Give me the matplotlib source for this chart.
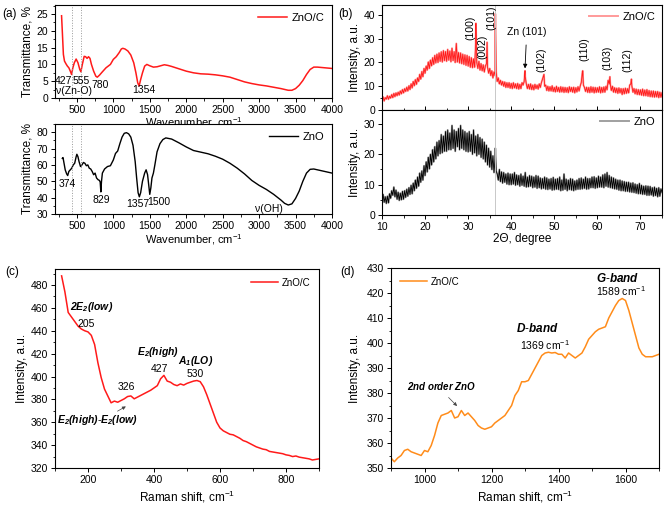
import matplotlib
matplotlib.use('Agg')
import matplotlib.pyplot as plt
import numpy as np
from matplotlib.ticker import AutoMinorLocator, MultipleLocator

plt.rcParams['font.family'] = ['Liberation Sans', 'DejaVu Sans']
plt.rcParams['mathtext.fontset'] = 'custom'
plt.rcParams['mathtext.rm'] = 'Liberation Sans'
plt.rcParams['mathtext.it'] = 'Liberation Sans:italic'
plt.rcParams['mathtext.bf'] = 'Liberation Sans:bold:italic'

# ---- (a) FTIR ----
ftir_znoc_x = [290, 300, 315, 330, 350, 370, 390, 410, 427, 445, 465, 490, 515, 540, 555, 575,
               600, 620, 640, 660, 680, 700, 730, 760, 780, 810, 850, 900, 960, 1000, 1040, 1080,
               1110, 1130, 1160, 1200, 1240, 1280, 1310, 1335, 1354, 1375, 1400, 1430, 1460, 1500,
               1550, 1600, 1650, 1700, 1750, 1800, 1900, 2000, 2100, 2200, 2300, 2400, 2500, 2600,
               2700, 2800, 2900, 3000, 3100, 3200, 3300, 3400, 3450, 3500, 3550, 3600, 3650, 3700,
               3750, 3800, 3900, 4000]
ftir_znoc_y = [24.5, 20, 13, 11, 10.2, 9.5, 9, 8, 7, 9, 10.5, 11.6, 10.5, 8.5, 7.8, 10,
               12.4, 12.3, 11.8, 12.3, 11.8, 10, 8, 6.5, 6.2, 6.8, 7.8, 9, 10, 11.5, 12.3, 13.5,
               14.6, 14.8, 14.6, 14, 12.8, 10.5, 7.5, 4.5, 3.6, 5.5, 7.5, 9.5, 10, 9.6,
               9.2, 9.3, 9.6, 9.9, 9.7, 9.4, 8.7, 8, 7.5, 7.2, 7.1, 6.9, 6.6, 6.2,
               5.5, 4.8, 4.3, 3.9, 3.6, 3.2, 2.8, 2.3, 2.3, 2.8, 3.8, 5.2, 7, 8.5,
               9.2, 9.2, 9, 8.8]

ftir_zno_x = [300, 310, 320, 340, 360, 374, 390, 410, 430, 450, 470, 490, 500, 515, 530, 550,
              570, 590, 610, 630, 650, 670, 690, 710, 730, 750, 770, 790, 810, 820, 829, 838,
              850, 880, 920, 960, 1000, 1030, 1060, 1090, 1120, 1150, 1180, 1210, 1240, 1270,
              1300, 1320, 1340, 1357, 1375, 1400, 1430, 1450, 1470, 1485, 1500, 1515, 1530, 1550,
              1570, 1600, 1640, 1680, 1720, 1800, 1900, 2000, 2100, 2200, 2300, 2400, 2500, 2600,
              2700, 2800, 2900, 3000, 3100, 3200, 3300, 3350, 3400, 3450, 3500, 3550, 3600, 3650,
              3700, 3750, 3800, 3900, 4000]
ftir_zno_y = [64, 64.5, 62, 57, 54.5, 53.5, 56, 57, 58, 60, 61, 65, 66.5, 65, 62, 59,
              60, 61.5, 61, 59.5, 60, 58, 57.5, 56, 54, 55, 52, 51, 50.5, 49.5, 43.5, 50,
              55, 57.5, 59, 59.5, 63, 67, 68.5, 73, 77, 79.3, 79.7, 79, 77, 72,
              62, 52, 43, 40.5, 43, 50, 55, 57, 54, 48, 42, 46, 52, 55,
              60, 68, 73, 75.5, 76.5, 75.8, 73.5, 71, 68.8, 67.8, 66.8, 65.3, 63.5, 61,
              58, 54.5, 50.5, 47.5, 45, 42, 38.5, 36.5, 35.5, 36.2, 39.5, 44, 50, 55,
              57.3, 57.5, 57, 56, 55]

# ---- (b) XRD, 0.25 deg grid from 10 to 75 ----
xrd_x = np.arange(10, 75.01, 0.25)
xrd_znoc = [4.0, 5.5, 3.8, 5.2, 4.6, 6.0, 4.5, 5.8, 5.0, 6.5, 5.2, 7.0, 5.6, 7.2, 6.0, 7.5,
            6.3, 8.0, 6.8, 8.6, 7.2, 9.0, 7.8, 9.6, 8.0, 10.2, 8.6, 11.0, 9.3, 12.0, 10.2, 12.8,
            10.8, 13.5, 12.0, 15.0, 13.0, 16.2, 14.0, 17.5, 15.5, 18.5, 16.8, 20.2, 17.5, 21.0, 18.6, 22.0,
            19.2, 23.0, 19.8, 23.5, 20.0, 24.0, 20.5, 24.5, 20.2, 25.0, 20.8, 24.6, 20.5, 25.5, 21.0, 24.8,
            20.3, 26.0, 20.8, 24.5, 20.0, 28.0, 20.2, 24.2, 19.8, 24.0, 19.5, 23.5, 19.2, 23.2, 18.8, 23.0,
            18.5, 22.5, 18.0, 22.0, 17.8, 21.5, 18.0, 28.0, 20.0, 17.5, 20.5, 16.8, 19.5, 16.5, 19.0, 16.0,
            18.5, 19.5, 18.0, 15.5, 17.5, 14.5, 16.5, 13.5, 16.0, 14.5, 16.0, 12.0, 13.5, 11.0, 12.5, 10.5,
            12.0, 10.0, 11.8, 9.5, 11.5, 9.5, 11.5, 9.2, 11.2, 9.0, 11.5, 9.3, 11.0, 9.0, 11.2, 8.8,
            10.8, 9.0, 11.5, 10.5, 12.0, 14.0, 11.0, 9.0, 10.8, 8.8, 11.0, 8.6, 10.5, 8.5, 10.8, 9.0,
            10.5, 8.8, 11.0, 9.5, 11.5, 13.0, 14.5, 10.0, 10.5, 8.2, 10.0, 8.0, 9.8, 8.0, 10.2, 7.8,
            9.5, 7.6, 10.0, 7.8, 9.5, 7.5, 9.8, 7.6, 9.6, 7.4, 9.5, 7.5, 9.4, 7.3, 9.8, 7.8,
            9.5, 7.5, 9.6, 7.2, 9.4, 7.6, 9.8, 8.0, 10.0, 11.5, 15.5, 10.5, 9.5, 7.8, 9.6, 7.4,
            9.5, 7.3, 9.8, 7.5, 9.6, 7.2, 9.5, 7.4, 9.4, 7.5, 9.8, 7.2, 9.5, 7.4, 9.7, 7.5,
            10.0, 8.5, 12.5, 11.0, 10.8, 8.2, 10.0, 7.5, 9.4, 7.3, 9.2, 7.0, 9.3, 7.2, 9.0, 6.5,
            9.0, 6.8, 9.2, 7.0, 9.0, 7.2, 10.5, 11.0, 10.2, 7.5, 9.0, 6.8, 8.8, 6.5, 8.6, 6.4,
            8.5, 6.2, 8.8, 6.0, 8.4, 6.0, 8.6, 5.8, 8.2, 5.6, 8.0, 5.5, 8.0, 5.4, 7.8, 5.5,
            7.8, 5.2, 7.5, 5.4, 7.2]
xrd_zno = [4.5, 6.8, 4.2, 6.0, 3.8, 6.2, 4.0, 7.0, 5.5, 8.0, 6.5, 9.2, 6.0, 8.2, 5.2, 7.5,
           4.8, 7.2, 5.0, 7.8, 5.2, 8.0, 5.8, 8.5, 6.2, 9.0, 6.8, 9.8, 7.0, 10.5, 8.0, 11.5,
           8.8, 12.5, 9.5, 13.8, 10.8, 14.5, 11.5, 16.2, 13.0, 17.5, 14.2, 19.0, 15.2, 20.0, 16.5, 21.5,
           17.5, 22.5, 18.5, 24.0, 19.5, 24.5, 20.2, 26.5, 20.5, 26.0, 21.0, 27.5, 21.0, 28.0, 21.5, 27.0,
           21.5, 29.5, 22.0, 28.0, 21.0, 27.5, 22.5, 28.5, 21.5, 29.5, 22.0, 28.0, 21.5, 27.5, 21.0, 27.0,
           20.8, 27.5, 21.0, 26.5, 20.0, 28.0, 20.5, 26.0, 19.5, 26.5, 20.0, 25.5, 19.0, 25.0, 18.5, 24.0,
           17.5, 23.0, 16.5, 22.0, 15.8, 21.0, 15.0, 19.5, 14.0, 18.5, 14.5, 13.5, 11.5, 15.0, 11.0, 14.2,
           10.5, 14.0, 10.8, 13.5, 10.2, 13.8, 10.0, 13.5, 10.0, 13.5, 10.2, 14.0, 9.8, 13.2, 10.0, 13.0,
           9.5, 13.5, 9.8, 12.8, 9.5, 14.0, 9.2, 12.5, 9.3, 13.0, 9.5, 12.8, 9.0, 12.5, 9.2, 13.0,
           8.8, 12.8, 9.0, 12.2, 8.6, 12.0, 8.8, 12.5, 8.5, 12.2, 8.4, 11.8, 8.6, 12.0, 8.2, 12.4,
           8.3, 11.8, 8.5, 12.0, 8.4, 12.5, 8.0, 11.5, 8.2, 13.5, 8.5, 11.8, 8.0, 11.5, 8.4, 12.0,
           8.2, 11.8, 8.0, 11.2, 8.3, 11.5, 8.5, 12.0, 8.5, 12.2, 8.6, 11.8, 8.8, 12.5, 8.5, 12.0,
           8.6, 12.0, 9.0, 12.5, 9.0, 12.6, 8.8, 12.2, 9.0, 12.8, 9.2, 12.5, 9.2, 13.2, 9.0, 13.5,
           9.5, 14.0, 9.2, 13.0, 9.0, 12.5, 8.8, 12.2, 8.6, 11.8, 8.5, 11.5, 8.2, 11.5, 8.0, 11.2,
           8.0, 11.0, 7.8, 10.8, 7.8, 10.8, 7.6, 10.5, 7.5, 10.6, 7.4, 10.2, 7.2, 10.0, 7.0, 10.4,
           7.0, 9.8, 6.8, 9.5, 6.8, 9.6, 6.5, 9.5, 6.5, 9.4, 6.6, 9.0, 6.2, 9.2, 6.4, 8.8,
           6.0, 9.0, 6.2, 8.6, 7.5]
# sharp reflections that fall between grid points
peak_znoc_x = [31.8, 34.4, 36.3, 43.2, 47.6, 56.6, 62.9, 67.9]
peak_znoc_y = [36.5, 28.5, 40.5, 16.5, 15.0, 16.5, 14.0, 13.0]
peak_zno_x = [36.3]
peak_zno_y = [22.0]

# ---- (c) Raman low range ----
raman_c_x = np.arange(120, 901, 10)
raman_c_y = [488, 474, 456, 452, 448, 444, 441.5, 440, 439, 436, 428, 412, 399, 389, 383, 377,
             378.5, 377.5, 379, 380.5, 382.5, 383, 380.5, 382, 383.5, 385, 386.5, 388, 390, 392,
             398, 401, 396, 395, 393, 392, 393.5, 392.5, 394, 395, 396, 396.5, 395.5, 391, 384,
             376, 368, 360, 355, 352.5, 351, 349.5, 349, 347.5, 346, 344, 343, 341.5, 340, 338.5,
             337.5, 336.5, 336, 334.5, 334, 333.5, 333, 332.5, 331.5, 331, 330, 330.5, 329.5, 329,
             328.5, 328, 327, 327.5, 328]

# ---- (d) Raman carbon range ----
raman_d_x = np.arange(900, 1701, 10)
raman_d_y = [354, 352.5, 354, 355, 357, 357.5, 356.5, 356, 355.5, 355, 357, 356.5, 359, 363, 368,
             371, 371.5, 372, 373, 370, 370.5, 373, 371, 372, 370.5, 369, 367, 366, 365.5, 366,
             366.5, 368, 369, 370, 371, 373, 375, 379, 381, 384.5, 384.5, 385, 387.5, 390, 392.5,
             395, 396, 396.3, 396, 396.2, 395.5, 395.5, 394, 396, 395, 394, 395, 396, 398.5,
             401.5, 403, 404.5, 405.5, 406, 406.5, 410, 412.5, 415, 417, 417.8, 417, 413, 408,
             403, 398, 395.5, 394.5, 394.5, 394.5, 395, 395.5]


def merge(x, y, px, py):
    xx = np.concatenate([np.asarray(x, float), px])
    yy = np.concatenate([np.asarray(y, float), py])
    o = np.argsort(xx, kind='stable')
    return xx[o], yy[o]


def style(ax):
    for s in ax.spines.values():
        s.set_linewidth(0.8)
    ax.tick_params(direction='out', length=3, width=0.7, labelsize=7.5, pad=2)
    ax.tick_params(which='minor', direction='out', length=1.8, width=0.6)
    ax.xaxis.set_minor_locator(AutoMinorLocator(2))
    ax.yaxis.set_minor_locator(AutoMinorLocator(2))


W, H = 664, 507
fig = plt.figure(figsize=(W/100, H/100), dpi=100)


def box(l, t, r, b):
    return [l/W, 1-b/H, (r-l)/W, (b-t)/H]


red = '#ff1a1a'

# (a) top
ax1 = fig.add_axes(box(55, 5, 332, 98))
ax1.plot(ftir_znoc_x, ftir_znoc_y, color=red, lw=1.1, label='ZnO/C')
ax1.set_xlim(200, 4000)
ax1.set_ylim(0, 27.7)
ax1.xaxis.set_major_locator(MultipleLocator(500))
ax1.yaxis.set_major_locator(MultipleLocator(5))
style(ax1)
ax1.set_xlabel('Wavenumber, cm$^{-1}$', fontsize=8, labelpad=0)
ax1.set_ylabel('Transmittance, %', fontsize=8.5, labelpad=2)
ax1.legend(loc='upper right', frameon=False, fontsize=8, handlelength=2.6,
           borderaxespad=0.3, handletextpad=0.4)
for v in (427, 555):
    ax1.axvline(v, color='#999999', ls=':', lw=0.7)
ax1.text(435, 5.1, '427', fontsize=7.5, ha='right', va='center')
ax1.text(556, 5.1, '555', fontsize=7.5, ha='center', va='center')
ax1.text(825, 3.8, '780', fontsize=7.5, ha='center', va='center')
ax1.text(1420, 2.3, '1354', fontsize=7.5, ha='center', va='center')
ax1.text(457, 2.0, 'ν(Zn-O)', fontsize=7.5, ha='center', va='center')
fig.text(2/W, 1-14/H, '(a)', fontsize=8.5, va='center')

# (a) bottom
ax2 = fig.add_axes(box(55, 124, 332, 214))
ax2.plot(ftir_zno_x, ftir_zno_y, color='black', lw=1.0, label='ZnO')
ax2.set_xlim(200, 4000)
ax2.set_ylim(30, 85)
ax2.xaxis.set_major_locator(MultipleLocator(500))
ax2.yaxis.set_major_locator(MultipleLocator(10))
style(ax2)
ax2.set_xlabel('Wavenumber, cm$^{-1}$', fontsize=8, labelpad=1)
ax2.set_ylabel('Transmittance, %', fontsize=8.5, labelpad=2)
ax2.legend(loc='upper right', frameon=False, fontsize=8, handlelength=2.6,
           borderaxespad=0.3, handletextpad=0.4)
for v in (427, 555):
    ax2.axvline(v, color='#999999', ls=':', lw=0.7)
ax2.text(374, 48.2, '374', fontsize=7.5, ha='center', va='center')
ax2.text(835, 38.7, '829', fontsize=7.5, ha='center', va='center')
ax2.text(1335, 36.0, '1357', fontsize=7.5, ha='center', va='center')
ax2.text(1630, 37.6, '1500', fontsize=7.5, ha='center', va='center')
ax2.text(3136, 33.2, 'ν(OH)', fontsize=7.5, ha='center', va='center')

# (b) top
x1, y1 = merge(xrd_x, xrd_znoc, peak_znoc_x, peak_znoc_y)
x2, y2 = merge(xrd_x, xrd_zno, peak_zno_x, peak_zno_y)
ax3 = fig.add_axes(box(382, 5, 662, 110))
ax3.plot(x1, y1, color='#ff9a9a', lw=1.4, label='ZnO/C')
ax3.plot(x1, y1, color=red, lw=0.6)
ax3.axvline(36.3, color='#c8c8c8', lw=0.7)
ax3.set_xlim(10, 75)
ax3.set_ylim(0, 44.2)
ax3.xaxis.set_major_locator(MultipleLocator(10))
ax3.yaxis.set_major_locator(MultipleLocator(10))
style(ax3)
ax3.tick_params(axis='x', direction='in', labelbottom=False)
ax3.tick_params(axis='x', which='minor', direction='in')
ax3.set_ylabel('Intensity, a.u.', fontsize=8.5, labelpad=2)
ax3.legend(loc='upper right', frameon=False, fontsize=8, handlelength=2.6,
           borderaxespad=0.2, handletextpad=0.4)
for lab, px, py in [('(100)', 30.4, 34.5), ('(002)', 33.3, 26.5), ('(101)', 35.3, 39.0),
                    ('(102)', 47.1, 21.0), ('(110)', 56.9, 25.6), ('(103)', 62.4, 22.0),
                    ('(112)', 67.0, 21.0)]:
    ax3.text(px, py, lab, rotation=90, fontsize=7.5, ha='center', va='center')
ax3.annotate('Zn (101)', xy=(43.2, 17.5), xytext=(43.6, 33), fontsize=7.5,
             ha='center', va='center',
             arrowprops=dict(arrowstyle='-|>', color='black', lw=0.6, mutation_scale=6,
                             shrinkA=4, shrinkB=0))
fig.text(338/W, 1-14/H, '(b)', fontsize=8.5, va='center')

# (b) bottom
ax4 = fig.add_axes(box(382, 110, 662, 215))
ax4.plot(x2, y2, color='#a0a0a0', lw=1.4, label='ZnO')
ax4.plot(x2, y2, color='black', lw=0.6)
ax4.axvline(36.3, color='#c8c8c8', lw=0.7)
ax4.set_xlim(10, 75)
ax4.set_ylim(0, 34.6)
ax4.xaxis.set_major_locator(MultipleLocator(10))
ax4.yaxis.set_major_locator(MultipleLocator(10))
style(ax4)
ax4.set_xlabel('2Θ, degree', fontsize=8.5, labelpad=1)
ax4.set_ylabel('Intensity, a.u.', fontsize=8.5, labelpad=2)
ax4.legend(loc='upper right', frameon=False, fontsize=8, handlelength=2.6,
           borderaxespad=0.2, handletextpad=0.4)

# (c)
ax5 = fig.add_axes(box(55, 269, 319, 468))
ax5.plot(raman_c_x, raman_c_y, color=red, lw=1.1, label='ZnO/C')
ax5.set_xlim(100, 900)
ax5.set_ylim(320, 494)
ax5.xaxis.set_major_locator(MultipleLocator(200))
ax5.yaxis.set_major_locator(MultipleLocator(20))
style(ax5)
ax5.set_xlabel('Raman shift, cm$^{-1}$', fontsize=8.5, labelpad=3)
ax5.set_ylabel('Intensity, a.u.', fontsize=8.5, labelpad=2)
ax5.legend(loc='upper right', frameon=False, fontsize=7, handlelength=2.8,
           borderaxespad=0.5, handletextpad=0.4)
ax5.text(212, 461, r'$\mathbf{2E_2(low)}$', fontsize=7.5, ha='center', va='center')
ax5.text(194, 446, '205', fontsize=7.5, ha='center', va='center')
ax5.text(315, 390.7, '326', fontsize=7.5, ha='center', va='center')
ax5.text(413, 421, r'$\mathbf{E_2(high)}$', fontsize=7.5, ha='center', va='center')
ax5.text(417, 407, '427', fontsize=7.5, ha='center', va='center')
ax5.text(527, 413.6, r'$\mathbf{A_1(LO)}$', fontsize=7.5, ha='center', va='center')
ax5.text(525, 402, '530', fontsize=7.5, ha='center', va='center')
ax5.text(229, 362, r'$\mathbf{E_2(high)\text{-}E_2(low)}$', fontsize=7.5, ha='center', va='center')
ax5.annotate('', xy=(322, 375), xytext=(282, 368.5),
             arrowprops=dict(arrowstyle='-|>', color='#444444', lw=0.5, mutation_scale=5))
fig.text(5/W, 1-272/H, '(c)', fontsize=8.5, va='center')

# (d)
orange = '#ff8c1a'
ax6 = fig.add_axes(box(391, 268, 659, 468))
ax6.plot(raman_d_x, raman_d_y, color=orange, lw=1.1, label='ZnO/C')
ax6.set_xlim(900, 1700)
ax6.set_ylim(350, 430)
ax6.xaxis.set_major_locator(MultipleLocator(200))
ax6.yaxis.set_major_locator(MultipleLocator(10))
style(ax6)
ax6.set_xlabel('Raman shift, cm$^{-1}$', fontsize=8.5, labelpad=3)
ax6.set_ylabel('Intensity, a.u.', fontsize=8.5, labelpad=4)
ax6.legend(loc='upper left', frameon=False, fontsize=7, handlelength=2.8,
           borderaxespad=0.5, handletextpad=0.4)
ax6.text(1577, 426, r'$\mathbf{G\text{-}band}$', fontsize=8.5, ha='center', va='center')
ax6.text(1585, 420.6, '1589 cm$^{-1}$', fontsize=7.5, ha='center', va='center')
ax6.text(1338, 406, r'$\mathbf{D\text{-}band}$', fontsize=8.5, ha='center', va='center')
ax6.text(1360, 399.3, '1369 cm$^{-1}$', fontsize=7.5, ha='center', va='center')
ax6.text(1052, 382.6, r'$\mathbf{2nd\ order\ ZnO}$', fontsize=7, ha='center', va='center')
ax6.annotate('', xy=(1103, 374), xytext=(1066, 379),
             arrowprops=dict(arrowstyle='-|>', color='#444444', lw=0.5, mutation_scale=5))
fig.text(340/W, 1-272/H, '(d)', fontsize=8.5, va='center')

fig.savefig('out.png', dpi=100)
